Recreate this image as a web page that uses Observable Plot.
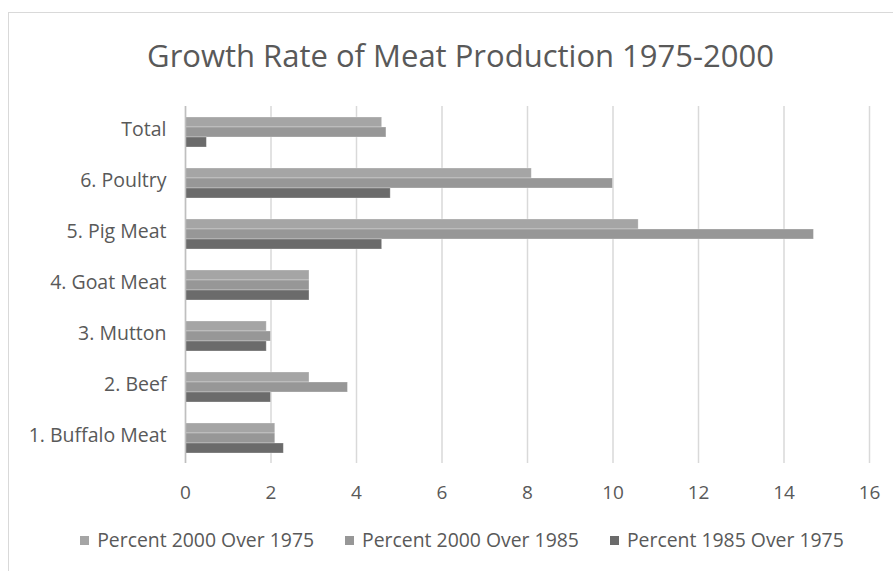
<!DOCTYPE html>
<html>
<head>
<meta charset="utf-8">
<script src="https://cdn.jsdelivr.net/npm/d3@7"></script>
<script src="https://cdn.jsdelivr.net/npm/@observablehq/plot@0.6"></script>
<style>
  html, body { margin: 0; padding: 0; background: #fff; overflow: hidden; }
  body { width: 893px; height: 571px; position: relative; font-family: "Open Sans", sans-serif; color: #595959; }
  #frame { position: absolute; left: 8px; top: 12px; width: 950px; height: 650px; border: 1px solid #d9d9d9; box-sizing: border-box; }
  #title { position: absolute; left: 0; top: 0; width: 921px; height: 90px; text-align: center; font-size: 31px; line-height: 1; padding-top: 40px; box-sizing: border-box; color: #595959; }
  #chart { position: absolute; left: 0; top: 90px; }
  #legend { position: absolute; left: 0; top: 528px; width: 924px; display: flex; justify-content: center; font-size: 19.4px; line-height: 24px; color: #595959; }
  .item { display: flex; align-items: center; margin: 0 15.5px; white-space: nowrap; }
  .sw { width: 9px; height: 9px; margin-right: 8px; }
</style>
</head>
<body>
<div id="frame"></div>
<div id="title">Growth Rate of Meat Production 1975-2000</div>
<div id="chart"></div>
<div id="legend"></div>
<script>
const categories = ["Total", "6. Poultry", "5. Pig Meat", "4. Goat Meat", "3. Mutton", "2. Beef", "1. Buffalo Meat"];
const seriesNames = ["Percent 2000 Over 1975", "Percent 2000 Over 1985", "Percent 1985 Over 1975"];
const pct2000Over1975 = [4.6, 8.1, 10.6, 2.9, 1.9, 2.9, 2.1];
const pct2000Over1985 = [4.7, 10.0, 14.7, 2.9, 2.0, 3.8, 2.1];
const pct1985Over1975 = [0.5, 4.8, 4.6, 2.9, 1.9, 2.0, 2.3];
const xTicks = [0, 2, 4, 6, 8, 10, 12, 14, 16];
const seriesColors = ["#a5a5a5", "#979797", "#6b6b6b"];

const seriesValues = [pct2000Over1975, pct2000Over1985, pct1985Over1975];
const rows = [];
categories.forEach((c, i) => {
  seriesNames.forEach((s, j) => rows.push({category: c, series: s, value: seriesValues[j][i]}));
});

const chart = Plot.plot({
  width: 893,
  height: 419,
  marginLeft: 185,
  marginRight: 24,
  marginTop: 14,
  marginBottom: 45,
  style: {fontFamily: "Open Sans, sans-serif", fontSize: "19px", color: "#595959", background: "transparent"},
  x: {domain: [0, 16]},
  y: {domain: seriesNames, paddingInner: 0, paddingOuter: 0.84, axis: null},
  fy: {domain: categories, padding: 0, label: null},
  color: {domain: seriesNames, range: seriesColors},
  marks: [
    Plot.gridX(xTicks, {stroke: "#d9d9d9", strokeOpacity: 1, strokeWidth: 1.5}),
    Plot.barX(rows, {fy: "category", y: "series", x: "value", fill: "series", stroke: "#ffffff", strokeOpacity: 0.35, strokeWidth: 0.8}),
    Plot.ruleX([0], {stroke: "#bfbfbf", strokeWidth: 1.5}),
    Plot.axisX(xTicks, {anchor: "bottom", tickSize: 0, tickPadding: 22, fill: "#595959", fontSize: 19, label: null}),
    Plot.axisFy({anchor: "left", tickSize: 0, tickPadding: 19, dy: -2, fill: "#595959", fontSize: 19.5, label: null})
  ]
});
document.getElementById("chart").appendChild(chart);

const legend = document.getElementById("legend");
seriesNames.forEach((s, j) => {
  const item = document.createElement("div");
  item.className = "item";
  const sw = document.createElement("div");
  sw.className = "sw";
  sw.style.background = seriesColors[j];
  const t = document.createElement("span");
  t.textContent = s;
  item.appendChild(sw);
  item.appendChild(t);
  legend.appendChild(item);
});
</script>
</body>
</html>
